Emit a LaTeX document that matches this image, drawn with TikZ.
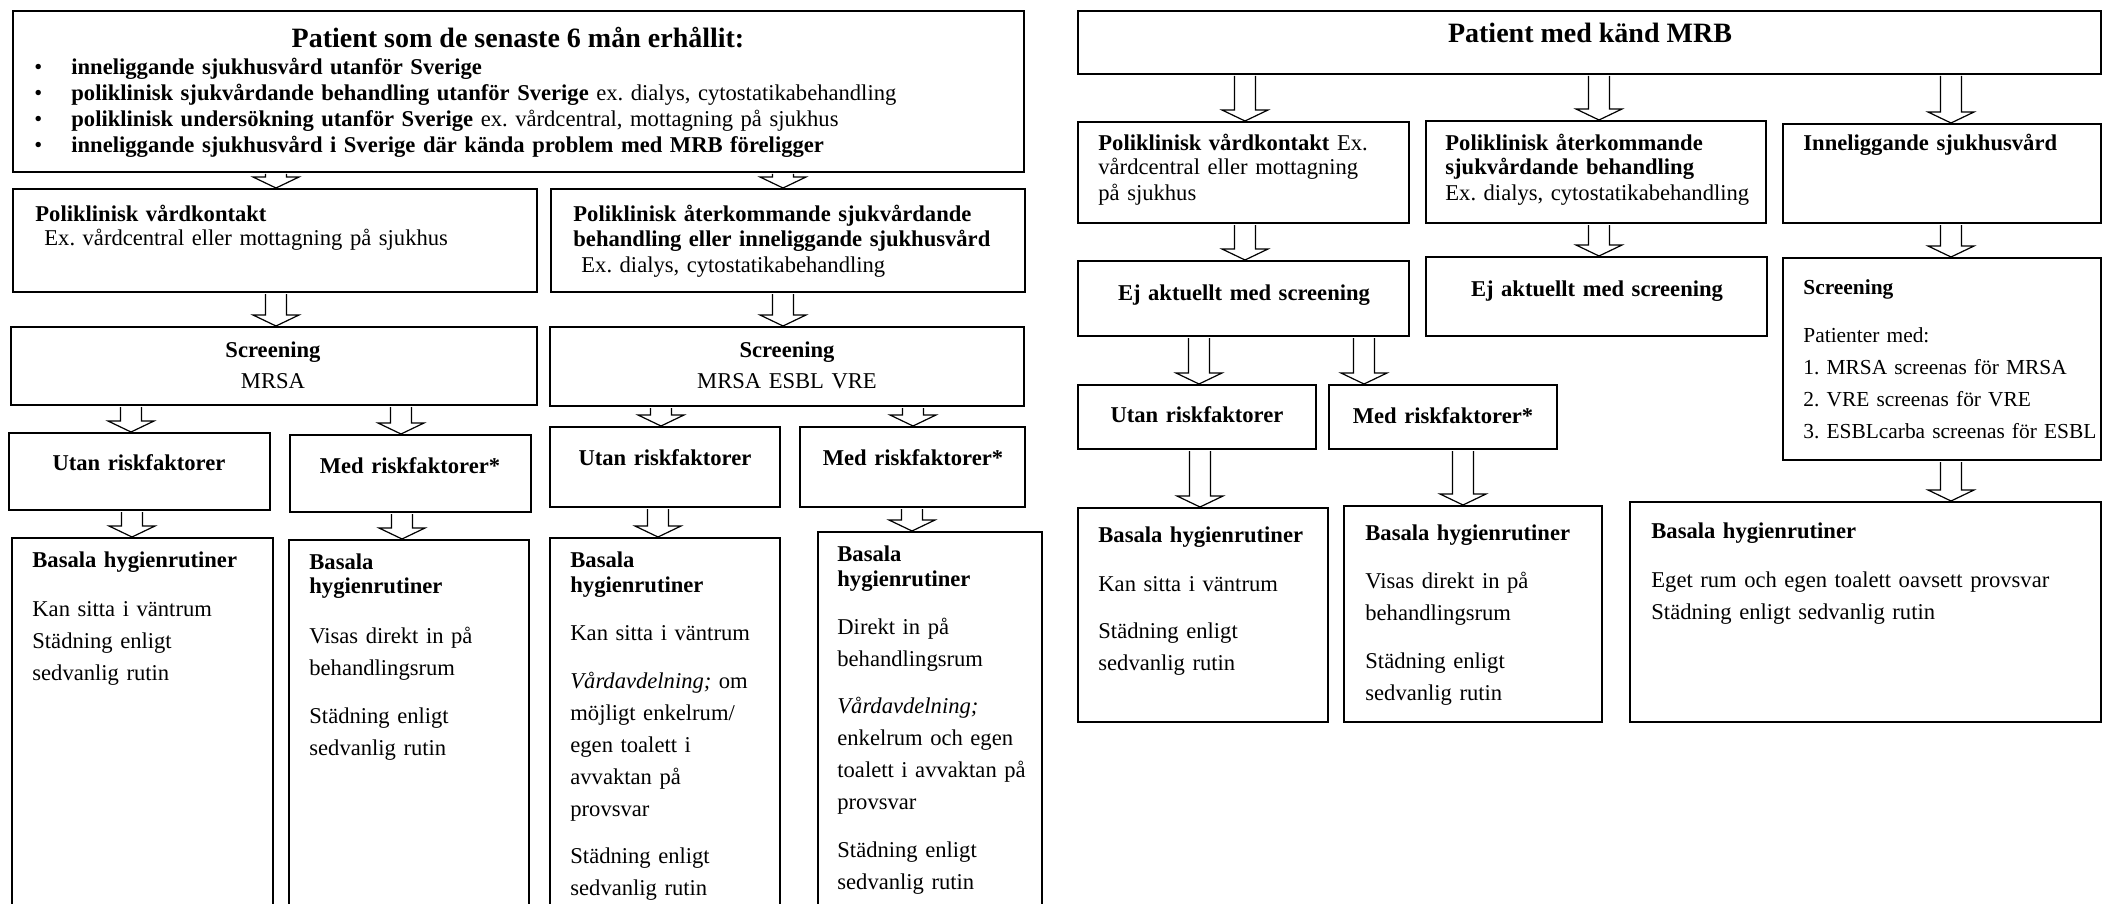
\documentclass[tikz,border=0pt]{standalone}
\usepackage{fontspec}
\setmainfont{Liberation Serif}
\usepackage{tikz}
\usetikzlibrary{fit,calc}

% hollow block arrow: x position, from node, to node
\newcommand{\hollowarrow}[3]{%
  \path [hollow] let \p0=(#1,0), \p1=(#2.south), \p2=(#3.north) in
    (\x0-5.25pt,\y1-0.5pt) -- (\x0-5.25pt,\y2+5.5pt) -- (\x0-11.5pt,\y2+5.5pt)
    -- (\x0,\y2) -- (\x0+11.5pt,\y2+5.5pt) -- (\x0+5.25pt,\y2+5.5pt)
    -- (\x0+5.25pt,\y1-0.5pt);}

\begin{document}
\frenchspacing
\begin{tikzpicture}[
    x=0.5pt, y=-0.5pt,
    box/.style={rectangle, draw, line width=1pt, inner sep=0pt},
    txt/.style={anchor=base west, align=left, inner sep=0pt, text width=480pt, font=\fontsize{11.3pt}{#1}\selectfont},
    txt/.default=16pt,
    ctxt/.style={anchor=base, align=center, inner sep=0pt, text width=300pt, font=\fontsize{11.3pt}{15.5pt}\selectfont},
    head/.style={anchor=base, inner sep=0pt, font=\fontsize{14pt}{16pt}\selectfont\bfseries},
    hollow/.style={draw, fill=white, line width=0.6pt}
]
\useasboundingbox (0,0) rectangle (2105,904);
\clip (0,0) rectangle (2105,904);

% Left flow
\node [box, fit={(13,11)(1024,172)}] (topL) {};
\node [box, fit={(13,189)(537,292)}] (b1) {};
\node [box, fit={(551,189)(1025,292)}] (b2) {};
\node [box, fit={(11,327)(537,405)}] (scrL) {};
\node [box, fit={(550,327)(1024,406)}] (scrR) {};
\node [box, fit={(9,433)(270,510)}] (utanL) {};
\node [box, fit={(290,435)(531,512)}] (medL) {};
\node [box, fit={(550,427)(780,507)}] (utanR) {};
\node [box, fit={(800,427)(1025,507)}] (medR) {};
\node [box, fit={(12,538)(273,930)}] (basL1) {};
\node [box, fit={(289,540)(529,930)}] (basL2) {};
\node [box, fit={(550,538)(780,930)}] (basL3) {};
\node [box, fit={(818,532)(1042,930)}] (basL4) {};

\node [head] (topLhead) at (518,48) {Patient som de senaste 6 mån erhållit:};
\node [txt=12.85pt] (bullets) at (34,75) {\textbullet\\ \textbullet\\ \textbullet\\ \textbullet};
\node [txt=12.85pt] (topLt) at (71,75) {%
  \textbf{inneliggande sjukhusvård utanför Sverige}\\
  \textbf{poliklinisk sjukvårdande behandling utanför Sverige} ex. dialys, cytostatikabehandling\\
  \textbf{poliklinisk undersökning utanför Sverige} ex. vårdcentral, mottagning på sjukhus\\
  \textbf{inneliggande sjukhusvård i Sverige där kända problem med MRB föreligger}};
\node [txt=12pt] (b1t) at (35,221) {\textbf{Poliklinisk vårdkontakt}\\
  \hspace*{4.5pt}Ex. vårdcentral eller mottagning på sjukhus};
\node [txt=12.75pt] (b2t) at (573,221) {\textbf{Poliklinisk återkommande sjukvårdande}\\
  \textbf{behandling eller inneliggande sjukhusvård}\\
  \hspace*{4pt}Ex. dialys, cytostatikabehandling};
\node [ctxt] (scrLt) at (273,357) {\textbf{Screening}\\MRSA};
\node [ctxt] (scrRt) at (787,357) {\textbf{Screening}\\MRSA ESBL VRE};
\node [ctxt] (utanLt) at (139,470) {\textbf{Utan riskfaktorer}};
\node [ctxt] (medLt) at (410,473) {\textbf{Med riskfaktorer*}};
\node [ctxt] (utanRt) at (665,465) {\textbf{Utan riskfaktorer}};
\node [ctxt] (medRt) at (913,465) {\textbf{Med riskfaktorer*}};
\node [txt] (basL1t) at (32,567) {\textbf{Basala hygienrutiner}\\[8.5pt]
  Kan sitta i väntrum\\ Städning enligt\\ sedvanlig rutin};
\node [txt] (basL2t) at (309,569) {\textbf{Basala}\\[-4pt] \textbf{hygienrutiner}\\[9pt]
  Visas direkt in på\\ behandlingsrum\\[8pt] Städning enligt\\ sedvanlig rutin};
\node [txt] (basL3t) at (570,567) {\textbf{Basala}\\[-3.5pt] \textbf{hygienrutiner}\\[8pt]
  Kan sitta i väntrum\\[8pt] \textit{Vårdavdelning;} om\\ möjligt enkelrum/\\ egen toalett i\\
  avvaktan på\\ provsvar\\[7.5pt] Städning enligt\\ sedvanlig rutin};
\node [txt] (basL4t) at (837,561) {\textbf{Basala}\\[-3.5pt] \textbf{hygienrutiner}\\[8pt]
  Direkt in på\\ behandlingsrum\\[7.5pt] \textit{Vårdavdelning;}\\ enkelrum och egen\\
  toalett i avvaktan på\\ provsvar\\[8pt] Städning enligt\\ sedvanlig rutin};

% Right flow
\node [box, fit={(1078,11)(2101,74)}] (topR) {};
\node [box, fit={(1078,122)(1409,223)}] (r1) {};
\node [box, fit={(1426,121)(1766,223)}] (r2) {};
\node [box, fit={(1783,124)(2101,223)}] (r3) {};
\node [box, fit={(1078,261)(1409,336)}] (ej1) {};
\node [box, fit={(1426,257)(1767,336)}] (ej2) {};
\node [box, fit={(1783,258)(2101,460)}] (scrRR) {};
\node [box, fit={(1078,385)(1316,449)}] (utanRR) {};
\node [box, fit={(1329,385)(1557,449)}] (medRR) {};
\node [box, fit={(1078,508)(1328,722)}] (basR1) {};
\node [box, fit={(1344,506)(1602,722)}] (basR2) {};
\node [box, fit={(1630,502)(2101,722)}] (basR3) {};

\node [head] (topRhead) at (1590,43) {Patient med känd MRB};
\node [txt=12.5pt] (r1t) at (1098,150) {\textbf{Poliklinisk vårdkontakt} Ex.\\
  vårdcentral eller mottagning\\ på sjukhus};
\node [txt=12.5pt] (r2t) at (1445,150) {\textbf{Poliklinisk återkommande}\\
  \textbf{sjukvårdande behandling}\\ Ex. dialys, cytostatikabehandling};
\node [txt] (r3t) at (1803,150) {\textbf{Inneliggande sjukhusvård}};
\node [ctxt] (ej1t) at (1244,300) {\textbf{Ej aktuellt med screening}};
\node [ctxt] (ej2t) at (1597,296) {\textbf{Ej aktuellt med screening}};
\node [txt, font=\fontsize{10.7pt}{16pt}\selectfont] (scrRRt) at (1803,294) {\textbf{Screening}\\[8pt] Patienter med:\\
  1. MRSA screenas för MRSA\\ 2. VRE screenas för VRE\\ 3. ESBLcarba screenas för ESBL};
\node [ctxt] (utanRRt) at (1197,422) {\textbf{Utan riskfaktorer}};
\node [ctxt] (medRRt) at (1443,423) {\textbf{Med riskfaktorer*}};
\node [txt] (basR1t) at (1098,542) {\textbf{Basala hygienrutiner}\\[8.5pt]
  Kan sitta i väntrum\\[7.5pt] Städning enligt\\ sedvanlig rutin};
\node [txt] (basR2t) at (1365,540) {\textbf{Basala hygienrutiner}\\[8pt]
  Visas direkt in på\\ behandlingsrum\\[8pt] Städning enligt\\ sedvanlig rutin};
\node [txt] (basR3t) at (1651,538) {\textbf{Basala hygienrutiner}\\[8.5pt]
  Eget rum och egen toalett oavsett provsvar\\ Städning enligt sedvanlig rutin};

% Connections
\hollowarrow{276}{topL}{b1}
\hollowarrow{783}{topL}{b2}
\hollowarrow{276}{b1}{scrL}
\hollowarrow{783}{b2}{scrR}
\hollowarrow{131}{scrL}{utanL}
\hollowarrow{401}{scrL}{medL}
\hollowarrow{661}{scrR}{utanR}
\hollowarrow{913}{scrR}{medR}
\hollowarrow{132}{utanL}{basL1}
\hollowarrow{402}{medL}{basL2}
\hollowarrow{658}{utanR}{basL3}
\hollowarrow{912}{medR}{basL4}
\hollowarrow{1245}{topR}{r1}
\hollowarrow{1599}{topR}{r2}
\hollowarrow{1951}{topR}{r3}
\hollowarrow{1245}{r1}{ej1}
\hollowarrow{1599}{r2}{ej2}
\hollowarrow{1951}{r3}{scrRR}
\hollowarrow{1199}{ej1}{utanRR}
\hollowarrow{1364}{ej1}{medRR}
\hollowarrow{1200}{utanRR}{basR1}
\hollowarrow{1463}{medRR}{basR2}
\hollowarrow{1951}{scrRR}{basR3}
\end{tikzpicture}
\end{document}
